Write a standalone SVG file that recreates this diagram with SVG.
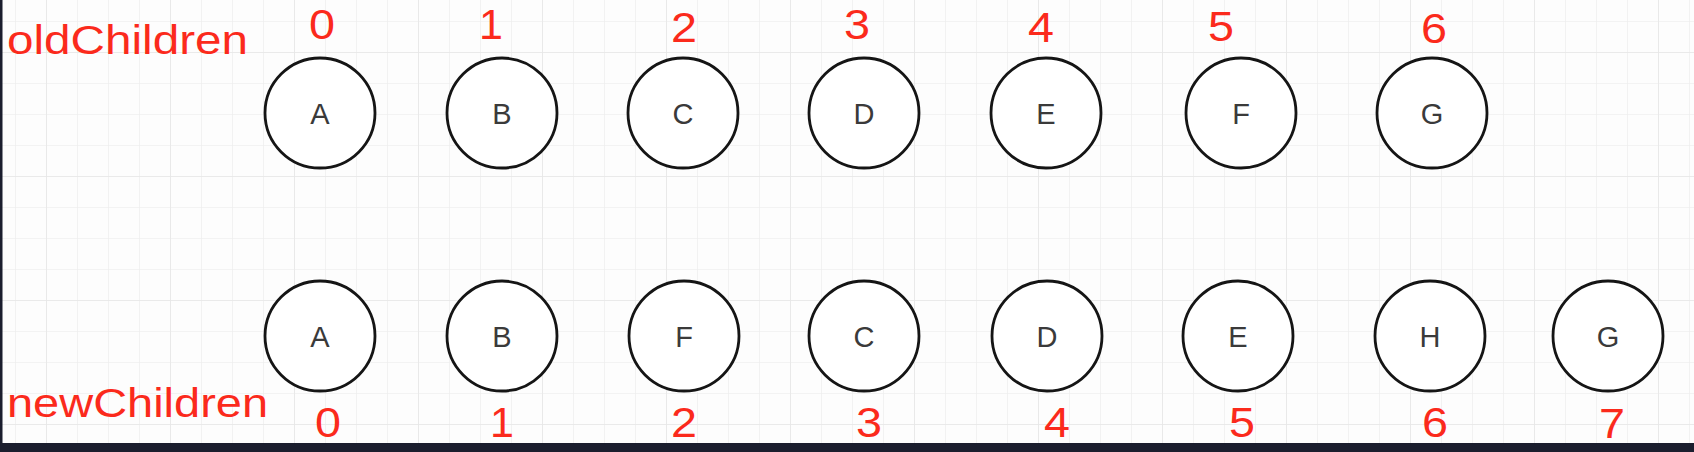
<svg xmlns="http://www.w3.org/2000/svg" width="1694" height="452" viewBox="0 0 1694 452">
<defs>
<pattern id="minor" x="15" y="21" width="31" height="31" patternUnits="userSpaceOnUse">
<path d="M0 0V31M0 0H31" stroke="#efefef" stroke-width="1.6" fill="none"/>
</pattern>
<pattern id="major" x="46" y="52" width="124" height="124" patternUnits="userSpaceOnUse">
<path d="M0 0V124M0 0H124" stroke="#e7e7e7" stroke-width="1.6" fill="none"/>
</pattern>
</defs>
<style>
.node circle{fill:#fff;stroke:#151515;stroke-width:2.8}
.node text{font-family:"Liberation Sans",Arial,sans-serif;font-size:29px;fill:#3a3a3a;text-anchor:middle}
.idx{font-family:"Liberation Sans",Arial,sans-serif;font-size:43px;fill:#fb2a1c;text-anchor:middle}
.lbl{font-family:"Liberation Sans",Arial,sans-serif;font-size:41px;fill:#fb2a1c}
</style>
<rect width="1694" height="452" fill="#fdfdfd"/>
<rect width="1694" height="452" fill="url(#minor)"/>
<rect width="1694" height="452" fill="url(#major)"/>
<rect x="0" y="0" width="2.5" height="452" fill="#1b1e2e"/>
<rect x="0" y="443" width="1694" height="9" fill="#1b1e2e"/>

<g id="labels">
<text class="lbl" x="7" y="54" textLength="241" lengthAdjust="spacingAndGlyphs">oldChildren</text>
<text class="lbl" x="7" y="417" textLength="261" lengthAdjust="spacingAndGlyphs">newChildren</text>
</g>

<g id="old-indices">
<text class="idx" x="322" y="39" textLength="26" lengthAdjust="spacingAndGlyphs">0</text>
<text class="idx" x="491" y="39">1</text>
<text class="idx" x="684" y="42" textLength="26" lengthAdjust="spacingAndGlyphs">2</text>
<text class="idx" x="857" y="39" textLength="26" lengthAdjust="spacingAndGlyphs">3</text>
<text class="idx" x="1041" y="42" textLength="26" lengthAdjust="spacingAndGlyphs">4</text>
<text class="idx" x="1221" y="41" textLength="26" lengthAdjust="spacingAndGlyphs">5</text>
<text class="idx" x="1434" y="43" textLength="26" lengthAdjust="spacingAndGlyphs">6</text>
</g>

<g id="new-indices">
<text class="idx" x="328" y="437" textLength="26" lengthAdjust="spacingAndGlyphs">0</text>
<text class="idx" x="502" y="437">1</text>
<text class="idx" x="684" y="437" textLength="26" lengthAdjust="spacingAndGlyphs">2</text>
<text class="idx" x="869" y="437" textLength="26" lengthAdjust="spacingAndGlyphs">3</text>
<text class="idx" x="1057" y="437" textLength="26" lengthAdjust="spacingAndGlyphs">4</text>
<text class="idx" x="1242" y="437" textLength="26" lengthAdjust="spacingAndGlyphs">5</text>
<text class="idx" x="1435" y="437" textLength="26" lengthAdjust="spacingAndGlyphs">6</text>
<text class="idx" x="1612" y="438" textLength="26" lengthAdjust="spacingAndGlyphs">7</text>
</g>

<g id="old-A" class="node"><circle cx="320" cy="113" r="55"/><text x="320" y="124">A</text></g>
<g id="old-B" class="node"><circle cx="502" cy="113" r="55"/><text x="502" y="124">B</text></g>
<g id="old-C" class="node"><circle cx="683" cy="113" r="55"/><text x="683" y="124">C</text></g>
<g id="old-D" class="node"><circle cx="864" cy="113" r="55"/><text x="864" y="124">D</text></g>
<g id="old-E" class="node"><circle cx="1046" cy="113" r="55"/><text x="1046" y="124">E</text></g>
<g id="old-F" class="node"><circle cx="1241" cy="113" r="55"/><text x="1241" y="124">F</text></g>
<g id="old-G" class="node"><circle cx="1432" cy="113" r="55"/><text x="1432" y="124">G</text></g>

<g id="new-A" class="node"><circle cx="320" cy="336" r="55"/><text x="320" y="347">A</text></g>
<g id="new-B" class="node"><circle cx="502" cy="336" r="55"/><text x="502" y="347">B</text></g>
<g id="new-F" class="node"><circle cx="684" cy="336" r="55"/><text x="684" y="347">F</text></g>
<g id="new-C" class="node"><circle cx="864" cy="336" r="55"/><text x="864" y="347">C</text></g>
<g id="new-D" class="node"><circle cx="1047" cy="336" r="55"/><text x="1047" y="347">D</text></g>
<g id="new-E" class="node"><circle cx="1238" cy="336" r="55"/><text x="1238" y="347">E</text></g>
<g id="new-H" class="node"><circle cx="1430" cy="336" r="55"/><text x="1430" y="347">H</text></g>
<g id="new-G" class="node"><circle cx="1608" cy="336" r="55"/><text x="1608" y="347">G</text></g>

<g id="connectors"></g>
</svg>
